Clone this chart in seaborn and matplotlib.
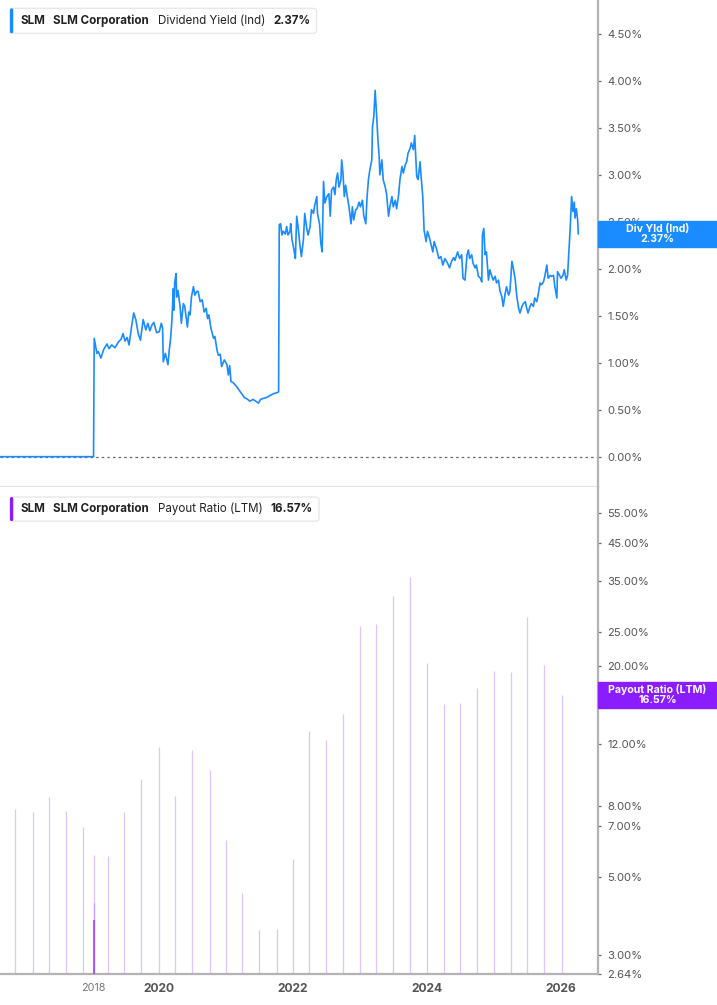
import numpy as np
import pandas as pd
import matplotlib
matplotlib.use("Agg")
import matplotlib.pyplot as plt
import matplotlib.transforms as mtransforms
from matplotlib.patches import Rectangle, FancyBboxPatch
import seaborn as sns

# dividend yield (ind), % -- dates as decimal years
yield_dates = [
    2017.60, 2019.03, 2019.04, 2019.08, 2019.10, 2019.14, 2019.18, 2019.23, 2019.26, 2019.30,
    2019.35, 2019.40, 2019.44, 2019.47, 2019.50, 2019.53, 2019.56, 2019.60, 2019.63, 2019.66,
    2019.70, 2019.73, 2019.77, 2019.81, 2019.84, 2019.87, 2019.90, 2019.93, 2019.97, 2020.01,
    2020.04, 2020.06, 2020.07, 2020.10, 2020.14, 2020.16, 2020.18, 2020.20, 2020.22, 2020.23,
    2020.24, 2020.26, 2020.27, 2020.29, 2020.32, 2020.34, 2020.37, 2020.39, 2020.41, 2020.43,
    2020.45, 2020.47, 2020.49, 2020.52, 2020.54, 2020.57, 2020.59, 2020.62, 2020.65, 2020.68,
    2020.71, 2020.73, 2020.75, 2020.78, 2020.82, 2020.84, 2020.87, 2020.89, 2020.92, 2020.94,
    2020.98, 2021.02, 2021.04, 2021.06, 2021.08, 2021.11, 2021.16, 2021.20, 2021.24, 2021.28,
    2021.33, 2021.36, 2021.41, 2021.45, 2021.49, 2021.52, 2021.56, 2021.61, 2021.66, 2021.71,
    2021.76, 2021.79, 2021.80, 2021.82, 2021.84, 2021.86, 2021.89, 2021.91, 2021.93, 2021.96,
    2021.97, 2021.99, 2022.02, 2022.04, 2022.06, 2022.08, 2022.11, 2022.13, 2022.16, 2022.18,
    2022.21, 2022.23, 2022.26, 2022.28, 2022.31, 2022.33, 2022.36, 2022.37, 2022.40, 2022.42,
    2022.44, 2022.46, 2022.48, 2022.51, 2022.54, 2022.56, 2022.58, 2022.61, 2022.63, 2022.65,
    2022.67, 2022.69, 2022.72, 2022.73, 2022.75, 2022.77, 2022.79, 2022.81, 2022.84, 2022.87,
    2022.89, 2022.91, 2022.94, 2022.96, 2022.99, 2023.01, 2023.04, 2023.06, 2023.09, 2023.11,
    2023.13, 2023.15, 2023.18, 2023.19, 2023.21, 2023.23, 2023.25, 2023.27, 2023.29, 2023.30,
    2023.33, 2023.35, 2023.38, 2023.40, 2023.43, 2023.45, 2023.48, 2023.50, 2023.53, 2023.55,
    2023.58, 2023.60, 2023.63, 2023.65, 2023.68, 2023.70, 2023.72, 2023.75, 2023.77, 2023.80,
    2023.82, 2023.85, 2023.87, 2023.90, 2023.91, 2023.94, 2023.96, 2023.99, 2024.01, 2024.04,
    2024.06, 2024.09, 2024.11, 2024.15, 2024.18, 2024.21, 2024.24, 2024.27, 2024.31, 2024.34,
    2024.37, 2024.40, 2024.42, 2024.46, 2024.49, 2024.52, 2024.54, 2024.57, 2024.60, 2024.62,
    2024.64, 2024.67, 2024.69, 2024.72, 2024.74, 2024.77, 2024.80, 2024.82, 2024.83, 2024.85,
    2024.87, 2024.89, 2024.92, 2024.94, 2024.97, 2024.99, 2025.02, 2025.04, 2025.07, 2025.09,
    2025.12, 2025.14, 2025.17, 2025.19, 2025.22, 2025.24, 2025.27, 2025.29, 2025.32, 2025.34,
    2025.37, 2025.39, 2025.42, 2025.44, 2025.47, 2025.49, 2025.51, 2025.54, 2025.56, 2025.59,
    2025.61, 2025.64, 2025.66, 2025.69, 2025.71, 2025.74, 2025.76, 2025.79, 2025.81, 2025.84,
    2025.86, 2025.89, 2025.91, 2025.94, 2025.95, 2025.98, 2026.00, 2026.03, 2026.05, 2026.08,
    2026.10, 2026.12, 2026.14, 2026.16, 2026.18, 2026.20, 2026.21, 2026.23, 2026.25, 2026.26,
]
yield_vals = [
    0.00, 0.00, 1.26, 1.10, 1.12, 1.05, 1.14, 1.20, 1.15, 1.19,
    1.16, 1.22, 1.25, 1.31, 1.23, 1.27, 1.19, 1.40, 1.53, 1.46,
    1.30, 1.24, 1.46, 1.35, 1.42, 1.34, 1.40, 1.43, 1.32, 1.33,
    1.42, 1.37, 1.01, 1.10, 0.98, 1.14, 1.26, 1.47, 1.79, 1.56,
    1.85, 1.95, 1.70, 1.77, 1.60, 1.42, 1.63, 1.60, 1.49, 1.38,
    1.54, 1.51, 1.70, 1.81, 1.72, 1.76, 1.76, 1.65, 1.67, 1.54,
    1.58, 1.47, 1.51, 1.37, 1.26, 1.28, 1.14, 1.08, 1.09, 0.96,
    1.03, 0.98, 0.87, 0.97, 0.80, 0.79, 0.75, 0.71, 0.67, 0.63,
    0.61, 0.59, 0.61, 0.59, 0.57, 0.61, 0.62, 0.63, 0.65, 0.67,
    0.68, 0.69, 2.47, 2.48, 2.36, 2.40, 2.37, 2.45, 2.36, 2.40,
    2.48, 2.31, 2.20, 2.11, 2.56, 2.45, 2.24, 2.13, 2.31, 2.59,
    2.43, 2.36, 2.45, 2.63, 2.59, 2.68, 2.77, 2.59, 2.48, 2.27,
    2.18, 2.93, 2.70, 2.77, 2.80, 2.56, 2.84, 2.87, 2.79, 2.95,
    3.02, 2.87, 2.95, 3.16, 3.02, 2.77, 2.89, 2.79, 2.66, 2.48,
    2.66, 2.52, 2.63, 2.64, 2.71, 2.66, 2.73, 2.57, 2.48, 2.77,
    2.95, 3.05, 3.16, 3.51, 3.62, 3.90, 3.66, 3.39, 3.19, 3.00,
    3.16, 2.95, 2.87, 2.80, 2.56, 2.66, 2.77, 2.66, 2.73, 2.64,
    2.79, 2.95, 3.09, 3.02, 3.11, 3.14, 3.23, 3.28, 3.34, 3.27,
    3.42, 2.98, 2.95, 3.14, 3.03, 2.77, 2.41, 2.29, 2.40, 2.33,
    2.27, 2.18, 2.29, 2.20, 2.11, 2.13, 2.04, 2.11, 2.06, 2.01,
    2.08, 2.12, 2.09, 2.18, 2.11, 2.15, 1.90, 1.88, 2.15, 2.20,
    2.11, 2.15, 2.06, 2.01, 2.04, 1.92, 1.90, 1.86, 2.36, 2.43,
    2.15, 2.18, 1.88, 1.99, 1.92, 1.88, 1.92, 1.85, 1.88, 1.77,
    1.70, 1.60, 1.74, 1.81, 1.72, 1.76, 2.08, 2.01, 1.88, 1.72,
    1.58, 1.53, 1.60, 1.63, 1.65, 1.58, 1.53, 1.60, 1.63, 1.60,
    1.69, 1.65, 1.72, 1.85, 1.83, 1.86, 1.92, 2.04, 1.90, 1.93,
    1.92, 1.93, 1.81, 1.69, 1.97, 1.93, 1.90, 1.93, 1.99, 1.88,
    1.93, 2.18, 2.45, 2.77, 2.61, 2.71, 2.54, 2.64, 2.52, 2.37,
]

# payout ratio (LTM), % -- quarterly
payout_dates = [
    2017.86, 2018.12, 2018.37, 2018.62, 2018.88, 2019.03, 2019.24, 2019.49, 2019.74, 2020.00,
    2020.25, 2020.50, 2020.76, 2021.01, 2021.25, 2021.50, 2021.76, 2022.01, 2022.25, 2022.50,
    2022.75, 2023.01, 2023.25, 2023.50, 2023.75, 2024.01, 2024.25, 2024.50, 2024.75, 2025.01,
    2025.25, 2025.50, 2025.75, 2026.01,
]
payout_vals = [
    7.84, 7.68, 8.48, 7.73, 6.96, 5.79, 5.73, 7.68, 9.54, 11.78,
    8.53, 11.55, 10.12, 6.39, 4.51, 3.53, 3.56, 5.64, 13.11, 12.28,
    14.64, 26.1, 26.5, 31.7, 35.9, 20.5, 15.6, 15.7, 17.3, 19.4,
    19.3, 27.7, 20.2, 16.57,
]
# hovered bar (highlighted) and the one under it
hover_date = [2019.03, 2019.03]
hover_vals = [4.22, 3.76]

yield_ticks = [0, 0.5, 1.0, 1.5, 2.0, 2.5, 3.0, 3.5, 4.0, 4.5]
payout_ticks = [2.64, 3, 5, 7, 8, 12, 16, 20, 25, 35, 45, 55]
year_ticks = [2020, 2022, 2024, 2026]
hover_tick = 2019.03
hover_tick_label = "2018"

last_yield = 2.37
last_payout = 16.57

BLUE = "#1a8cff"
PURPLE = "#8b1cff"
BAR = "#dcc4ff"
AXIS = "#b3b3b3"
TXT = "#555555"

sns.set_style("white")
plt.rcParams["font.family"] = ["Inter", "DejaVu Sans"]

fig = plt.figure(figsize=(7.17, 10.05), dpi=100)
ax1 = fig.add_axes([0, 0.5154, 0.8336, 0.4846])
ax2 = fig.add_axes([0, 0.0308, 0.8336, 0.4846])

xlim = (2017.635, 2026.549)

# top panel: dividend yield
df_y = pd.DataFrame({"date": yield_dates, "yield": yield_vals})
ax1.axhline(0, color="#666666", lw=0.9, ls=(0, (2, 2.5)), zorder=1)
sns.lineplot(data=df_y, x="date", y="yield", ax=ax1, color=BLUE, lw=1.2, zorder=3)
ax1.set_xlim(*xlim)
ax1.set_ylim(-0.323, 4.862)
ax1.set_xticks([])
ax1.yaxis.tick_right()
ax1.set_yticks(yield_ticks)
ax1.set_yticklabels([f"{t:.2f}%" for t in yield_ticks])

# bottom panel: payout ratio on log scale
ax2.set_yscale("log")
ax2.vlines(payout_dates, payout_ticks[0], payout_vals, color=BAR, lw=0.9, zorder=2)
ax2.vlines(hover_date[:1], payout_ticks[0], hover_vals[:1], color="#c79cff", lw=0.9, zorder=3)
ax2.vlines(hover_date[1:], payout_ticks[0], hover_vals[1:], color="#9d45ff", lw=1.2, zorder=4)
ax2.set_xlim(*xlim)
ax2.set_ylim(2.64, 65.1)
ax2.yaxis.tick_right()
ax2.yaxis.set_minor_locator(matplotlib.ticker.NullLocator())
ax2.set_yticks(payout_ticks)
ax2.set_yticklabels([f"{t:.2f}%" for t in payout_ticks])
ax2.set_xticks([hover_tick] + year_ticks)
ax2.set_xticklabels([hover_tick_label] + [str(y) for y in year_ticks])

for ax in (ax1, ax2):
    for s in ("left", "top"):
        ax.spines[s].set_visible(False)
    ax.spines["right"].set_color(AXIS)
    ax.spines["right"].set_linewidth(1.6)
    ax.tick_params(axis="y", length=1.8, width=0.9, color="#666666", pad=5,
                   labelsize=8.1, labelcolor=TXT)
    ax.set_facecolor("white")
    ax.set_xlabel("")
    ax.set_ylabel("")

ax1.spines["bottom"].set_color("#e2e2e2")
ax1.spines["bottom"].set_linewidth(1.6)
ax2.spines["bottom"].set_color(AXIS)
ax2.spines["bottom"].set_linewidth(1.6)
ax2.tick_params(axis="x", length=3, width=0.9, color="#666666", pad=3.5,
                labelsize=8.7, labelcolor=TXT)
for lab in ax2.get_xticklabels():
    lab.set_fontweight("bold")
first = ax2.get_xticklabels()[0]
first.set_fontweight("normal")
first.set_fontsize(7.8)
first.set_color("#777777")

# value tags on the right axis
def value_tag(ax, val, lo, hi, color, label):
    tr = mtransforms.blended_transform_factory(ax.transAxes, ax.transData)
    ax.add_patch(Rectangle((1.0, lo), 0.1996, hi - lo, transform=tr, color=color,
                           clip_on=False, zorder=10))
    ax.text(1.1, val, f"{label}\n{val:.2f}%", transform=tr, ha="center", va="center",
            color="white", fontsize=7.6, fontweight="bold", linespacing=1.0,
            clip_on=False, zorder=11)

value_tag(ax1, last_yield, last_yield - 0.1415, last_yield + 0.1415, BLUE, "Div Yld (Ind)")
value_tag(ax2, last_payout, last_payout / 1.089, last_payout * 1.089, PURPLE, "Payout Ratio (LTM)")

# legend boxes: texts chained left to right with a fixed gap
renderer = fig.canvas.get_renderer()

def legend_box(ax, y0, y1, color, parts):
    yc = (y0 + y1) / 2
    ax_w = ax.get_window_extent(renderer).width
    x = 0.0335
    gap = 8.5 / ax_w
    for txt, weight in parts:
        t = ax.text(x, yc, txt, transform=ax.transAxes, va="center", ha="left",
                    fontsize=8.35, fontweight=weight, color="#222222", zorder=14)
        x += t.get_window_extent(renderer).width / ax_w + gap
    x_end = x - gap + 6 / ax_w
    ax.add_patch(FancyBboxPatch((0.0167, y0), x_end - 0.0167, y1 - y0,
                                boxstyle="round,pad=0,rounding_size=0.006",
                                transform=ax.transAxes, fc="white", ec="#e6e6e6",
                                lw=0.9, zorder=12, clip_on=False))
    ax.add_patch(FancyBboxPatch((0.0167, y0), 0.0055, y1 - y0,
                                boxstyle="round,pad=0,rounding_size=0.003",
                                transform=ax.transAxes, fc=color, ec="none",
                                zorder=13, clip_on=False))

legend_box(ax1, 0.9316, 0.983, BLUE,
           [("SLM", "bold"), ("SLM Corporation", "bold"),
            ("Dividend Yield (Ind)", "normal"), (f"{last_yield:.2f}%", "bold")])
legend_box(ax2, 0.930, 0.9795, PURPLE,
           [("SLM", "bold"), ("SLM Corporation", "bold"),
            ("Payout Ratio (LTM)", "normal"), (f"{last_payout:.2f}%", "bold")])

fig.savefig("out.png", dpi=100, facecolor="white")
